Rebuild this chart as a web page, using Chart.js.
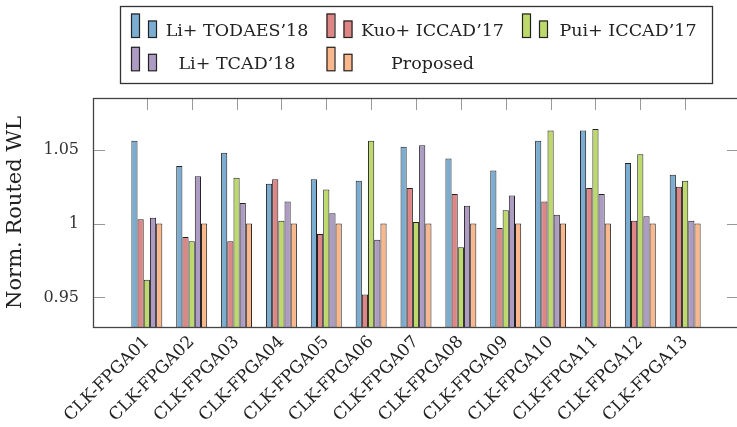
<!DOCTYPE html>
<html>
<head>
<meta charset="utf-8">
<script src="https://cdn.jsdelivr.net/npm/chart.js@4.4.1/dist/chart.umd.min.js"></script>
<style>
  html, body { margin: 0; padding: 0; overflow: hidden; background: #fff; }
  #wrap { width: 745px; height: 427px; position: relative; }
</style>
</head>
<body>
<div id="wrap"><canvas id="myChart"></canvas></div>
<script>
// data
const categories = [
  "CLK-FPGA01", "CLK-FPGA02", "CLK-FPGA03", "CLK-FPGA04", "CLK-FPGA05",
  "CLK-FPGA06", "CLK-FPGA07", "CLK-FPGA08", "CLK-FPGA09", "CLK-FPGA10",
  "CLK-FPGA11", "CLK-FPGA12", "CLK-FPGA13"
];
const liTodaes18 = [1.056, 1.039, 1.048, 1.027, 1.030, 1.029, 1.052, 1.044, 1.036, 1.056, 1.063, 1.041, 1.033];
const kuoIccad17 = [1.003, 0.991, 0.988, 1.030, 0.993, 0.952, 1.024, 1.020, 0.997, 1.015, 1.024, 1.002, 1.025];
const puiIccad17 = [0.962, 0.988, 1.031, 1.002, 1.023, 1.056, 1.001, 0.984, 1.009, 1.063, 1.064, 1.047, 1.029];
const liTcad18   = [1.004, 1.032, 1.014, 1.015, 1.007, 0.989, 1.053, 1.012, 1.019, 1.006, 1.020, 1.005, 1.002];
const proposed   = [1.000, 1.000, 1.000, 1.000, 1.000, 1.000, 1.000, 1.000, 1.000, 1.000, 1.000, 1.000, 1.000];

const seriesNames = ["Li+ TODAES\u201918", "Kuo+ ICCAD\u201917", "Pui+ ICCAD\u201917", "Li+ TCAD\u201918", "Proposed"];
const seriesColors = ["#7aadd1", "#de8686", "#bed96b", "#ae9bc4", "#fab78b"];

const yTickValues = [0.95, 1, 1.05];
const yTickLabels = ["0.95", "1", "1.05"];

const serif = "'DejaVu Serif', serif";

function toPoints(arr) {
  return arr.map((v, i) => ({ x: i + 1, y: v }));
}

// frame round the plot and the inward tick marks
const frameAndTicks = {
  id: "frameAndTicks",
  beforeDatasetsDraw(chart) {
    const { ctx, chartArea: a, scales } = chart;
    const len = 12;
    ctx.save();
    ctx.strokeStyle = "#999";
    ctx.lineWidth = 1;
    ctx.beginPath();
    scales.x.ticks.forEach((t, i) => {
      const px = Math.round(scales.x.getPixelForTick(i)) + 0.5;
      ctx.moveTo(px, a.top);
      ctx.lineTo(px, a.top + len);
    });
    scales.y.ticks.forEach((t, i) => {
      const py = Math.round(scales.y.getPixelForTick(i)) + 0.5;
      ctx.moveTo(a.left, py);
      ctx.lineTo(a.left + len, py);
      ctx.moveTo(a.right, py);
      ctx.lineTo(a.right - len, py);
    });
    ctx.stroke();
    ctx.restore();
  },
  afterDatasetsDraw(chart) {
    const { ctx, chartArea: a } = chart;
    ctx.save();
    ctx.strokeStyle = "#444";
    ctx.lineWidth = 1.3;
    ctx.strokeRect(Math.round(a.left) + 0.5, Math.round(a.top) + 0.5,
      Math.round(a.right - a.left), Math.round(a.bottom - a.top));
    ctx.restore();
  }
};

// pgfplots-style boxed legend, 3 columns
const boxLegend = {
  id: "boxLegend",
  afterDraw(chart) {
    const ctx = chart.ctx;
    ctx.save();
    ctx.strokeStyle = "#333";
    ctx.lineWidth = 1.3;
    ctx.strokeRect(120.5, 6.5, 592, 77);
    ctx.font = "17.5px " + serif;
    ctx.textAlign = "center";
    ctx.textBaseline = "alphabetic";
    chart.data.datasets.forEach((ds, i) => {
      const col = i % 3, row = Math.floor(i / 3);
      const x0 = 131 + col * 195.5;
      const bottom = 37.5 + row * 33.3;
      ctx.fillStyle = ds.backgroundColor;
      ctx.strokeStyle = "#222";
      ctx.lineWidth = 1.2;
      ctx.fillRect(x0, bottom - 24, 8, 24);
      ctx.strokeRect(x0 + 0.5, bottom - 23.5, 8, 23.5);
      ctx.fillRect(x0 + 17, bottom - 17, 9, 17);
      ctx.strokeRect(x0 + 17.5, bottom - 16.5, 8, 16.5);
      ctx.fillStyle = "#222";
      ctx.fillText(ds.label, x0 + 106, bottom - 2);
    });
    ctx.restore();
  }
};

const seriesData = [liTodaes18, kuoIccad17, puiIccad17, liTcad18, proposed];

new Chart(document.getElementById("myChart"), {
  type: "bar",
  data: {
    datasets: seriesData.map((arr, i) => ({
      label: seriesNames[i],
      data: toPoints(arr),
      backgroundColor: seriesColors[i],
      borderColor: "#222",
      borderWidth: 1,
      inflateAmount: 0,
      categoryPercentage: 0.69,
      barPercentage: 1.0
    }))
  },
  options: {
    responsive: true,
    maintainAspectRatio: false,
    animation: false,
    devicePixelRatio: 1,
    layout: { padding: { top: 98, right: 6, left: 0, bottom: 0 } },
    plugins: {
      legend: { display: false },
      tooltip: { enabled: false }
    },
    scales: {
      x: {
        type: "linear",
        offset: false,
        min: -0.2,
        max: 14.2,
        afterBuildTicks: (s) => { s.ticks = categories.map((c, i) => ({ value: i + 1 })); },
        afterFit: (s) => { s.height = 100; },
        grid: { display: false },
        border: { display: false },
        ticks: {
          autoSkip: false,
          minRotation: 45,
          maxRotation: 45,
          padding: -3,
          color: "#222",
          font: { family: serif, size: 17 },
          callback: (v) => categories[v - 1] || ""
        }
      },
      y: {
        min: 0.93,
        max: 1.085,
        afterBuildTicks: (s) => { s.ticks = yTickValues.map((v) => ({ value: v })); },
        afterFit: (s) => { s.width = 93; },
        grid: { display: false },
        border: { display: false },
        ticks: {
          padding: 6,
          color: "#333",
          font: { family: serif, size: 16 },
          callback: (v) => yTickLabels[yTickValues.indexOf(v)]
        },
        title: {
          display: true,
          text: "Norm. Routed WL",
          color: "#222",
          font: { family: serif, size: 21 },
          padding: { top: 3, bottom: 0 }
        }
      }
    }
  },
  plugins: [frameAndTicks, boxLegend]
});
</script>
</body>
</html>
